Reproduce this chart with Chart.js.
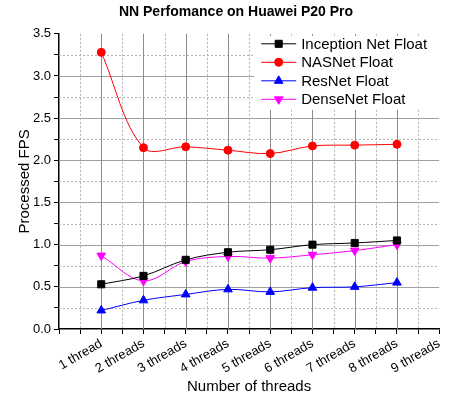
<!DOCTYPE html>
<html>
<head>
<meta charset="utf-8">
<title>NN Perfomance on Huawei P20 Pro</title>
<script src="https://cdn.jsdelivr.net/npm/chart.js@4.4.1/dist/chart.umd.min.js"></script>
<style>
    html, body { margin: 0; padding: 0; background: #fff; }
    #wrap { width: 449px; height: 398px; }
</style>
</head>
<body>
<div id="wrap"><canvas id="fpsChart" width="449" height="398"></canvas></div>
<script>
// Data
const threadCounts = [1, 2, 3, 4, 5, 6, 7, 8];
const xTickLabels = ['1 thread', '2 threads', '3 threads', '4 threads', '5 threads',
                     '6 threads', '7 threads', '8 threads', '9 threads'];
const xTickValues = [0, 0.5, 1, 1.5, 2, 2.5, 3, 3.5, 4, 4.5, 5, 5.5, 6, 6.5, 7, 7.5, 8, 8.5, 9];
const yTickValues = [0, 0.25, 0.5, 0.75, 1, 1.25, 1.5, 1.75, 2, 2.25, 2.5, 2.75, 3, 3.25, 3.5];
const inceptionFps = [0.53, 0.63, 0.82, 0.91, 0.94, 1.00, 1.02, 1.05];
const nasnetFps    = [3.28, 2.15, 2.16, 2.12, 2.08, 2.17, 2.18, 2.19];
const resnetFps    = [0.22, 0.34, 0.41, 0.47, 0.44, 0.49, 0.50, 0.55];
const densenetFps  = [0.87, 0.57, 0.80, 0.86, 0.84, 0.88, 0.93, 1.00];

const FONT = "Arial, 'Liberation Sans', sans-serif";

function toPoints(values) {
    return threadCounts.map((t, i) => ({ x: t, y: values[i] }));
}

function isHalfStep(v) {
    return Math.abs(v * 2 - Math.round(v * 2)) < 1e-6;
}

function crisp(p) {
    return Math.round(p) + 0.5;
}

function makeSeries(label, values, color, pointStyle, radius, rotation) {
    return {
        label: label,
        data: toPoints(values),
        borderColor: color,
        backgroundColor: color,
        borderWidth: 1,
        pointStyle: pointStyle,
        pointRadius: radius,
        pointRotation: rotation || 0,
        pointBorderWidth: 1,
        tension: 0.35
    };
}

// Origin-style grid: solid major lines, dotted minor lines
const gridPlugin = {
    id: 'originGrid',
    beforeDatasetsDraw(chart) {
        const { ctx, chartArea: a, scales: { x, y } } = chart;
        ctx.save();
        ctx.lineWidth = 1;
        y.ticks.forEach(t => {
            if (t.value <= 0 || t.value >= y.max) return;
            const py = crisp(y.getPixelForValue(t.value));
            const major = isHalfStep(t.value);
            ctx.strokeStyle = major ? '#a0a0a0' : '#b4b4b4';
            ctx.setLineDash(major ? [] : [2, 2]);
            ctx.beginPath();
            ctx.moveTo(a.left, py);
            ctx.lineTo(a.right, py);
            ctx.stroke();
        });
        x.ticks.forEach(t => {
            if (t.value <= 0 || t.value >= x.max) return;
            const px = crisp(x.getPixelForValue(t.value));
            const major = Number.isInteger(t.value);
            ctx.strokeStyle = major ? '#8c8c8c' : '#b4b4b4';
            ctx.setLineDash(major ? [] : [2, 2]);
            ctx.beginPath();
            ctx.moveTo(px, a.top);
            ctx.lineTo(px, a.bottom);
            ctx.stroke();
        });
        ctx.restore();
    }
};

// Legend box inside the top-right corner of the plot
const innerLegend = {
    id: 'innerLegend',
    afterDraw(chart) {
        const { ctx, chartArea: a } = chart;
        const boxLeft = a.right - 185;
        const lineStart = a.right - 178;
        const lineEnd = lineStart + 35;
        const textX = lineEnd + 5;
        ctx.save();
        ctx.fillStyle = '#fff';
        ctx.fillRect(boxLeft, a.top + 2, chart.width - boxLeft, 74);
        ctx.font = '15px ' + FONT;
        ctx.textBaseline = 'middle';
        chart.data.datasets.forEach((ds, i) => {
            const rowY = a.top + 10 + i * 18.5;
            ctx.strokeStyle = ds.borderColor;
            ctx.fillStyle = ds.backgroundColor;
            ctx.lineWidth = 1;
            ctx.beginPath();
            ctx.moveTo(lineStart, rowY);
            ctx.lineTo(lineEnd, rowY);
            ctx.stroke();
            Chart.helpers.drawPoint(ctx, {
                pointStyle: ds.pointStyle,
                radius: ds.pointRadius,
                rotation: ds.pointRotation,
                borderWidth: 1
            }, (lineStart + lineEnd) / 2, rowY);
            ctx.fillStyle = '#000';
            ctx.fillText(ds.label, textX, rowY + 1);
        });
        ctx.restore();
    }
};

function initChart() {
    const ctx = document.getElementById('fpsChart').getContext('2d');

    new Chart(ctx, {
        type: 'line',
        data: {
            datasets: [
                makeSeries('Inception Net Float', inceptionFps, '#000000', 'rect', 5),
                makeSeries('NASNet Float', nasnetFps, '#ff0000', 'circle', 4),
                makeSeries('ResNet Float', resnetFps, '#0000ff', 'triangle', 5),
                makeSeries('DenseNet Float', densenetFps, '#ff00ff', 'triangle', 5, 180)
            ]
        },
        options: {
            responsive: false,
            animation: false,
            layout: { padding: { left: 27, right: 4, top: 0, bottom: 0 } },
            plugins: {
                legend: { display: false },
                tooltip: { enabled: false },
                title: {
                    display: true,
                    text: 'NN Perfomance on Huawei P20 Pro',
                    color: '#000',
                    font: { family: FONT, size: 14, weight: 'bold', lineHeight: 1.2 },
                    padding: { top: 4, bottom: 13 }
                }
            },
            scales: {
                x: {
                    type: 'linear',
                    min: 0,
                    max: 9,
                    afterBuildTicks(scale) { scale.ticks = xTickValues.map(v => ({ value: v })); },
                    afterFit(scale) { scale.height = 69; },
                    border: { color: '#000', width: 1.5 },
                    grid: { drawOnChartArea: false, drawTicks: true, tickLength: 5, tickColor: '#000', tickWidth: 1 },
                    ticks: {
                        autoSkip: false,
                        minRotation: 30,
                        maxRotation: 30,
                        padding: 2,
                        color: '#000',
                        font: { family: FONT, size: 13 },
                        callback: value => (Number.isInteger(value) && value >= 1) ? xTickLabels[value - 1] : ''
                    },
                    title: {
                        display: true,
                        text: 'Number of threads',
                        color: '#000',
                        font: { family: FONT, size: 15 },
                        padding: { top: 0, bottom: 2 }
                    }
                },
                y: {
                    min: 0,
                    max: 3.5,
                    afterBuildTicks(scale) { scale.ticks = yTickValues.map(v => ({ value: v })); },
                    afterFit(scale) { scale.width = 32; },
                    border: { color: '#000', width: 1.5 },
                    grid: { drawOnChartArea: false, drawTicks: true, tickLength: 5, tickColor: '#000', tickWidth: 1 },
                    ticks: {
                        autoSkip: false,
                        padding: 3,
                        color: '#000',
                        font: { family: FONT, size: 13 },
                        callback: value => isHalfStep(value) ? value.toFixed(1) : ''
                    },
                    title: {
                        display: true,
                        text: 'Processed FPS',
                        color: '#000',
                        font: { family: FONT, size: 15 },
                        padding: { top: -11, bottom: 0 }
                    }
                }
            }
        },
        plugins: [gridPlugin, innerLegend]
    });
}

document.addEventListener('DOMContentLoaded', initChart);
</script>
</body>
</html>
